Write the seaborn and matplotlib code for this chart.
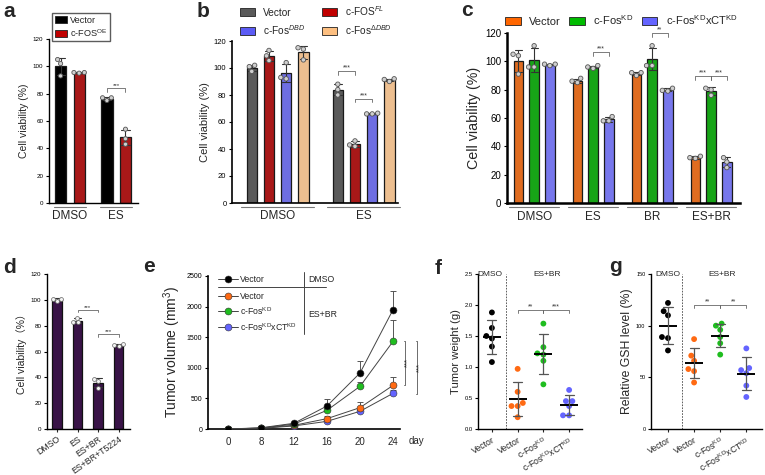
import numpy as np
import pandas as pd
import matplotlib
matplotlib.use('Agg')
import matplotlib.pyplot as plt
from matplotlib.patches import Patch
import seaborn as sns

# ---------------- data ----------------
# a: cell viability, c-FOS overexpression
a_groups = ['DMSO', 'ES']
a_conds = ['Vector', 'c-FOS$^{\\mathrm{OE}}$']
a_vector = [[105, 102, 93], [75, 77, 77]]
a_fos_oe = [[95.5, 95, 95.5], [54, 47, 43]]

# b: cell viability, c-FOS constructs
b_groups = ['DMSO', 'ES']
b_conds = ['Vector', 'c-FOS$^{FL}$', 'c-Fos$^{DBD}$', 'c-Fos$^{ΔDBD}$']
b_vector = [[102, 97.5, 101], [88, 84, 80]]
b_fos_fl = [[113, 109, 105.5], [46, 42, 43]]
b_fos_dbd = [[104, 92, 93], [66, 66, 66.5]]
b_fos_ddbd = [[114, 115, 106], [90, 91.5, 92]]

# c: cell viability, knockdowns
c_groups = ['DMSO', 'ES', 'BR', 'ES+BR']
c_conds = ['Vector', 'c-Fos$^{\\mathrm{KD}}$', 'c-Fos$^{\\mathrm{KD}}$xCT$^{\\mathrm{KD}}$']
c_vector = [[105, 104, 91], [88, 85, 86], [92, 90, 92], [33, 32, 31.5]]
c_fos_kd = [[111, 96, 96], [96, 95, 97], [111, 97, 97], [81, 80, 76]]
c_fos_xct_kd = [[98, 97, 98], [61, 58, 58], [81, 79, 79.5], [32, 29, 25]]

# d: cell viability with T5224
d_groups = ['DMSO', 'ES', 'ES+BR', 'ES+BR+T5224']
d_values = [[99, 101, 100.5], [86, 83, 82.5], [39, 37, 32], [64, 65.5, 65]]

# e: tumor volume over time (mean, sd)
e_days = ['0', '8', '12', '16', '20', '24']
e_vec_dmso = [0, 20, 93, 376, 915, 1950]
e_vec_dmso_sd = [0, 5, 15, 120, 190, 300]
e_vec_esbr = [0, 15, 60, 169, 349, 713]
e_vec_esbr_sd = [0, 3, 10, 50, 92, 137]
e_kd = [0, 15, 80, 305, 697, 1432]
e_kd_sd = [0, 4, 12, 60, 70, 344]
e_kd_xct = [0, 10, 50, 125, 289, 583]
e_kd_xct_sd = [0, 3, 8, 30, 40, 50]

# f, g: tumor weight and GSH level
fg_labels = ['Vector', 'Vector', 'c-Fos$^{\\mathrm{KD}}$', 'c-Fos$^{\\mathrm{KD}}$xCT$^{\\mathrm{KD}}$']
fg_keys = ['vec_dmso', 'vec_esbr', 'kd', 'kd_xct']
f_vec_dmso = [1.88, 1.63, 1.46, 1.50, 1.33, 1.08]
f_vec_esbr = [0.97, 0.60, 0.42, 0.37, 0.37, 0.19]
f_kd = [1.70, 1.32, 1.22, 1.20, 1.10, 0.72]
f_kd_xct = [0.63, 0.45, 0.45, 0.37, 0.22, 0.22]
g_vec_dmso = [122, 114, 110, 89, 88, 76]
g_vec_esbr = [87, 71, 66, 58, 56, 45]
g_kd = [102, 100, 96, 89, 83, 72]
g_kd_xct = [78, 59, 57, 54, 42, 31]

series_colors = ['#000000', '#ff6a13', '#1fbd1f', '#6464ff']

# ---------------- style ----------------
sns.set_style('ticks')
plt.rcParams['font.family'] = ['Liberation Sans', 'Noto Sans CJK SC', 'DejaVu Sans']
plt.rcParams['mathtext.fontset'] = 'custom'
plt.rcParams['mathtext.rm'] = 'Liberation Sans'
plt.rcParams['mathtext.it'] = 'Liberation Sans:italic'
plt.rcParams['mathtext.bf'] = 'Liberation Sans:bold'

W, H = 765, 475
fig = plt.figure(figsize=(W / 100, H / 100), dpi=100)


def add_ax(left, bottom, right, top):
    return fig.add_axes([left / W, 1 - bottom / H, (right - left) / W, (bottom - top) / H])


def long_df(groups, conds, reps):
    rows = []
    for cond, per_group in zip(conds, reps):
        for g, vals in zip(groups, per_group):
            for v in vals:
                rows.append((g, cond, v))
    return pd.DataFrame(rows, columns=['group', 'cond', 'value'])


def style_ax(ax, lw=1.0, ysize=5):
    sns.despine(ax=ax)
    for s in ['left', 'bottom']:
        ax.spines[s].set_linewidth(lw)
        ax.spines[s].set_color('black')
    ax.tick_params(axis='y', length=2.5, width=0.8, labelsize=ysize, pad=1.5, colors='black')
    ax.set_xlabel('')


def bracket(ax, x1, x2, y, text, h, fs=5):
    ax.plot([x1, x1, x2, x2], [y - h, y, y, y - h], color='#666', lw=0.6, clip_on=False)
    ax.text((x1 + x2) / 2, y, text, ha='center', va='bottom', fontsize=fs, color='#333')


def group_lines(ax, n, half, y=-0.025):
    trans = ax.get_xaxis_transform()
    for i in range(n):
        ax.plot([i - half, i + half], [y, y], color='#777', lw=0.8, transform=trans, clip_on=False)


def bar_panel(ax, df, groups, conds, colors, gap, pt):
    sns.barplot(data=df, x='group', y='value', hue='cond', order=groups, hue_order=conds,
                palette=colors, errorbar='sd', capsize=0.35, gap=gap,
                err_kws={'color': '#333', 'linewidth': 0.8},
                edgecolor='#1a1a1a', linewidth=0.9, legend=False, ax=ax)
    sns.swarmplot(data=df, x='group', y='value', hue='cond', order=groups, hue_order=conds,
                  dodge=True, palette=['#cfcfcf'] * len(conds), size=pt,
                  edgecolor='#555', linewidth=0.6, legend=False, ax=ax)


# ---------------- a ----------------
ax = add_ax(49, 203, 138, 39)
df_a = long_df(a_groups, a_conds, [a_vector, a_fos_oe])
bar_panel(ax, df_a, a_groups, a_conds, ['#000000', '#c00000'], 0.4, 3)
style_ax(ax, 1.0, 4.5)
ax.set_ylim(0, 120)
ax.set_yticks(range(0, 121, 20))
ax.set_xlim(-0.45, 1.47)
ax.set_xticks(range(2))
ax.set_xticklabels(a_groups, fontsize=8.5)
ax.tick_params(axis='x', length=0, pad=5)
ax.set_ylabel('Cell viability (%)', fontsize=7.5, labelpad=3)
group_lines(ax, 2, 0.34)
bracket(ax, 0.8, 1.2, 84, '***', 2.5, 4.5)
ax.legend([Patch(facecolor=c, edgecolor='#222', lw=0.6) for c in ['#000000', '#c00000']], a_conds,
          loc='upper left', bbox_to_anchor=(52 / W, 1 - 13 / H), bbox_transform=fig.transFigure,
          fontsize=6.6, frameon=True, fancybox=False, edgecolor='#333', handlelength=1.3,
          handleheight=0.8, borderpad=0.3, labelspacing=0.25, handletextpad=0.4, borderaxespad=0)

# ---------------- b ----------------
ax = add_ax(232, 203, 398, 41)
b_colors = ['#5a5a5a', '#c00000', '#5b5bf5', '#fdbf80']
df_b = long_df(b_groups, b_conds, [b_vector, b_fos_fl, b_fos_dbd, b_fos_ddbd])
bar_panel(ax, df_b, b_groups, b_conds, b_colors, 0.4, 3.2)
style_ax(ax, 1.2, 5.5)
ax.set_ylim(0, 120)
ax.set_yticks(range(0, 121, 20))
ax.set_xlim(-0.53, 1.40)
ax.set_xticks(range(2))
ax.set_xticklabels(b_groups, fontsize=8.5)
ax.tick_params(axis='x', length=0, pad=5)
ax.set_ylabel('Cell viability (%)', fontsize=8, labelpad=3)
group_lines(ax, 2, 0.42)
bracket(ax, 0.7, 0.9, 97.5, '***', 2.5, 5)
bracket(ax, 0.9, 1.1, 77, '***', 2.5, 5)
order = [0, 2, 1, 3]
ax.legend([Patch(facecolor=b_colors[i], edgecolor='#222', lw=0.6) for i in order],
          [b_conds[i] for i in order], ncol=2, loc='upper left',
          bbox_to_anchor=(240 / W, 1 - 4 / H), bbox_transform=fig.transFigure,
          fontsize=7.3, frameon=False, handlelength=1.5, handleheight=0.8,
          labelspacing=0.5, handletextpad=0.8, columnspacing=1.6, borderaxespad=0, borderpad=0)

# ---------------- c ----------------
ax = add_ax(507, 203, 740, 33)
c_colors = ['#ff6600', '#00bb00', '#6464ff']
df_c = long_df(c_groups, c_conds, [c_vector, c_fos_kd, c_fos_xct_kd])
bar_panel(ax, df_c, c_groups, c_conds, c_colors, 0.4, 3.2)
style_ax(ax, 1.8, 7)
ax.set_ylim(0, 120)
ax.set_yticks(range(0, 121, 20))
ax.set_xlim(-0.46, 3.49)
ax.set_xticks(range(4))
ax.set_xticklabels(c_groups, fontsize=8.5)
ax.tick_params(axis='x', length=0, pad=6)
ax.set_ylabel('Cell viability (%)', fontsize=10.3, labelpad=3)
group_lines(ax, 4, 0.42)
s = 0.8 / 3
bracket(ax, 1, 1 + s, 106.5, '***', 2.5, 5)
bracket(ax, 2, 2 + s, 120, '**', 2.5, 5)
bracket(ax, 3 - s, 3, 89.5, '***', 2.5, 5)
bracket(ax, 3, 3 + s, 89.5, '***', 2.5, 5)
ax.legend([Patch(facecolor=c, edgecolor='#222', lw=0.6) for c in c_colors], c_conds, ncol=3,
          loc='upper left', bbox_to_anchor=(505 / W, 1 - 13 / H), bbox_transform=fig.transFigure,
          fontsize=8, frameon=False, handlelength=1.4, handleheight=0.8, handletextpad=0.8,
          columnspacing=0.7, borderaxespad=0, borderpad=0)

# ---------------- d ----------------
ax = add_ax(47, 429, 130, 274)
df_d = pd.DataFrame([(g, v) for g, vals in zip(d_groups, d_values) for v in vals],
                    columns=['group', 'value'])
sns.barplot(data=df_d, x='group', y='value', order=d_groups, color='#3d0a50', width=0.46,
            errorbar='sd', capsize=0.35, err_kws={'color': '#333', 'linewidth': 0.8},
            edgecolor='#111', linewidth=0.9, ax=ax)
sns.swarmplot(data=df_d, x='group', y='value', order=d_groups, color='#f2f2f2', size=2.8,
              edgecolor='#666', linewidth=0.5, ax=ax)
style_ax(ax, 1.0, 4.5)
ax.set_ylim(0, 120)
ax.set_yticks(range(0, 121, 20))
ax.set_xlim(-0.49, 3.56)
ax.set_xticks(range(4))
ax.set_xticklabels(d_groups, fontsize=6.3, rotation=35, ha='right', rotation_mode='anchor')
ax.tick_params(axis='x', length=2, width=0.8, pad=2)
ax.set_ylabel('Cell viability（%）', fontsize=7.5, labelpad=3)
bracket(ax, 1, 2, 92.3, '***', 2, 4.5)
bracket(ax, 2, 3, 73.4, '***', 2, 4.5)

# ---------------- e ----------------
ax = add_ax(208, 429, 400, 276)
pos = np.arange(len(e_days))
e_series = [(e_kd_xct, e_kd_xct_sd, series_colors[3]),
            (e_vec_esbr, e_vec_esbr_sd, series_colors[1]),
            (e_kd, e_kd_sd, series_colors[2]),
            (e_vec_dmso, e_vec_dmso_sd, series_colors[0])]
for mean, sd, col in e_series:
    ax.errorbar(pos, mean, yerr=[np.zeros(len(sd)), sd], fmt='none', ecolor='#555',
                elinewidth=0.7, capsize=2.2, capthick=0.7, zorder=2)
    sns.lineplot(x=pos, y=mean, color='#444', lw=0.7, marker='o', markersize=5,
                 markerfacecolor=col, markeredgecolor='#333', markeredgewidth=0.4, ax=ax, zorder=3)
style_ax(ax, 1.2, 5)
ax.set_ylim(0, 2500)
ax.set_yticks(range(0, 2501, 500))
ax.set_xlim(-0.6, 5.21)
ax.set_xticks(pos)
ax.set_xticklabels(e_days, fontsize=7)
ax.tick_params(axis='x', length=0, pad=6)
ax.set_ylabel('Tumor volume (mm$^3$)', fontsize=10, labelpad=3)
fig.text(416 / W, 1 - 441 / H, 'day', fontsize=7, ha='center', va='center')
# table-style legend
tr = ax.transAxes
leg_rows = [(0.98, 'Vector', series_colors[0]), (0.869, 'Vector', series_colors[1]),
            (0.771, 'c-Fos$^{\\mathrm{KD}}$', series_colors[2]),
            (0.667, 'c-Fos$^{\\mathrm{KD}}$xCT$^{\\mathrm{KD}}$', series_colors[3])]
for yy, lab, col in leg_rows:
    ax.plot([0.052, 0.156], [yy, yy], color='#444', lw=0.7, transform=tr, clip_on=False)
    ax.plot([0.104], [yy], marker='o', markersize=5, markerfacecolor=col, markeredgecolor='#333',
            markeredgewidth=0.4, transform=tr, clip_on=False)
    ax.text(0.167, yy, lab, fontsize=6.3, va='center', ha='left', transform=tr)
ax.plot([0.052, 0.615], [0.928, 0.928], color='#444', lw=0.7, transform=tr, clip_on=False)
ax.plot([0.5, 0.5], [0.621, 1.026], color='#444', lw=0.7, transform=tr, clip_on=False)
ax.text(0.52, 0.974, 'DMSO', fontsize=6.3, va='center', ha='left', transform=tr)
ax.text(0.52, 0.75, 'ES+BR', fontsize=6.3, va='center', ha='left', transform=tr)
# significance at day 24
ax.plot([5.33, 5.36, 5.36, 5.33], [1440, 1440, 720, 720], color='#555', lw=0.6, clip_on=False)
ax.text(5.45, 1080, '***', rotation=90, fontsize=5.5, ha='center', va='center')
ax.plot([5.70, 5.73, 5.73, 5.70], [1440, 1440, 575, 575], color='#555', lw=0.6, clip_on=False)
ax.text(5.82, 1010, '***', rotation=90, fontsize=5.5, ha='center', va='center')


# ---------------- f / g ----------------
def dot_panel(ax, reps, ymax, ysize):
    df = pd.DataFrame([(k, v) for k, vals in zip(fg_keys, reps) for v in vals],
                      columns=['group', 'value'])
    sns.swarmplot(data=df, x='group', y='value', hue='group', order=fg_keys, hue_order=fg_keys,
                  palette=series_colors, size=4.2, linewidth=0, legend=False, ax=ax, zorder=2)
    sns.pointplot(data=df, x='group', y='value', order=fg_keys, errorbar='sd', linestyle='none',
                  marker='_', markersize=13, markeredgewidth=1.4, color='black', capsize=0.35,
                  err_kws={'color': '#555', 'linewidth': 0.9}, ax=ax)
    style_ax(ax, 1.0, ysize)
    ax.set_ylim(0, ymax)
    ax.set_xticks(range(4))
    ax.set_xticklabels(fg_labels, fontsize=6.3, rotation=30, ha='right', rotation_mode='anchor')
    ax.tick_params(axis='x', length=2.5, width=0.8, pad=2)


ax = add_ax(478, 429, 582, 274)
dot_panel(ax, [f_vec_dmso, f_vec_esbr, f_kd, f_kd_xct], 2.5, 4.2)
ax.set_xlim(-0.54, 3.5)
ax.axvline(0.55, color='#444', lw=0.6, ls=(0, (2, 1.5)))
ax.set_yticks([0, 0.5, 1.0, 1.5, 2.0, 2.5])
ax.set_yticklabels(['0.0', '0.5', '1.0', '1.5', '2.0', '2.5'])
ax.set_ylabel('Tumor weight (g)', fontsize=8.1, labelpad=2)
ax.text(-0.08, 2.5, 'DMSO', fontsize=6, ha='center', va='center')
ax.text(2.14, 2.5, 'ES+BR', fontsize=6, ha='center', va='center')
bracket(ax, 1, 2, 1.92, '**', 0.05, 5)
bracket(ax, 2, 3, 1.92, '***', 0.05, 5)

ax = add_ax(651, 429, 762, 274)
dot_panel(ax, [g_vec_dmso, g_vec_esbr, g_kd, g_kd_xct], 150, 4)
ax.set_xlim(-0.65, 3.6)
ax.axvline(0.54, color='#444', lw=0.6, ls=(0, (2, 1.5)))
ax.set_yticks([0, 50, 100, 150])
ax.set_ylabel('Relative GSH level (%)', fontsize=8.8, labelpad=2)
ax.text(0, 150, 'DMSO', fontsize=6, ha='center', va='center')
ax.text(2.08, 150, 'ES+BR', fontsize=6, ha='center', va='center')
bracket(ax, 1, 2, 120, '**', 3, 5)
bracket(ax, 2, 3, 120, '**', 3, 5)

# ---------------- panel letters ----------------
for lx, ly, letter in [(3, 17, 'a'), (197, 17, 'b'), (461, 16, 'c'), (3, 273, 'd'),
                       (143, 272, 'e'), (435, 274, 'f'), (609, 272, 'g')]:
    fig.text(lx / W, 1 - ly / H, letter, fontsize=15, fontweight='bold', ha='left', va='baseline')

fig.savefig('out.png', dpi=100)
